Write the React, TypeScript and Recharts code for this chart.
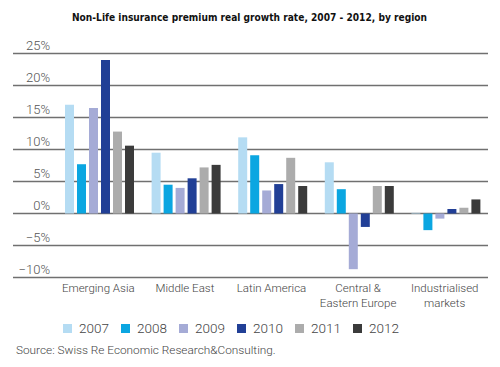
import React from "react";
import { BarChart, Bar, XAxis, YAxis, CartesianGrid } from "recharts";

const regions = [
  "Emerging Asia",
  "Middle East",
  "Latin America",
  "Central &\nEastern Europe",
  "Industrialised\nmarkets",
];

const years = ["2007", "2008", "2009", "2010", "2011", "2012"];

const y2007 = [17.0, 9.5, 11.9, 8.0, 0.1];
const y2008 = [7.7, 4.5, 9.1, 3.8, -2.6];
const y2009 = [16.5, 4.0, 3.6, -8.7, -0.8];
const y2010 = [24.0, 5.5, 4.6, -2.1, 0.7];
const y2011 = [12.8, 7.2, 8.7, 4.3, 0.9];
const y2012 = [10.6, 7.6, 4.3, 4.3, 2.2];

const yTicks = [-10, -5, 0, 5, 10, 15, 20, 25];

const colors = ["#b5dcf3", "#0ba6e1", "#a5abd6", "#213f96", "#acacac", "#3b3b3b"];

const series = [y2007, y2008, y2009, y2010, y2011, y2012];

const data = regions.map((r, i) => {
  const row: Record<string, string | number> = { region: r };
  years.forEach((y, k) => {
    row[y] = series[k][i];
  });
  return row;
});

const font = "Roboto, 'Liberation Sans', sans-serif";

function YTick(props: any) {
  const { y, payload } = props;
  const v = payload.value as number;
  const label = (v < 0 ? "\u2212" + Math.abs(v) : String(v)) + "%";
  return (
    <text x={50} y={y - 4} textAnchor="end" fontSize={13} fill="#555" fontFamily={font} fontWeight={300}>
      {label}
    </text>
  );
}

function XTick(props: any) {
  const { x, y, payload } = props;
  const lines = String(payload.value).split("\n");
  return (
    <text x={x} y={y + 6} textAnchor="middle" fontSize={11.5} fill="#444" fontFamily={font} fontWeight={300}>
      {lines.map((l, i) => (
        <tspan key={i} x={x} dy={i === 0 ? 0 : 15}>
          {l}
        </tspan>
      ))}
    </text>
  );
}

export default function App() {
  return (
    <div style={{ position: "absolute", left: 0, top: 0, width: 500, height: 367, background: "#fff", overflow: "hidden" }}>
      <svg width={500} height={30} style={{ position: "absolute", left: 0, top: 0 }}>
        <text
          x={72}
          y={21}
          fontSize={11}
          fontWeight="bold"
          fontFamily="'DejaVu Sans', Verdana, sans-serif"
          fill="#111"
          textLength={355}
          lengthAdjust="spacingAndGlyphs"
        >
          Non-Life insurance premium real growth rate, 2007 - 2012, by region
        </text>
      </svg>
      <div style={{ position: "absolute", left: 0, top: 0 }}>
        <BarChart
          width={500}
          height={340}
          data={data}
          margin={{ top: 53.5, right: 12, left: 13, bottom: 22.5 }}
          barCategoryGap={10}
          barGap={3}
        >
          <CartesianGrid vertical={false} stroke="#707070" strokeWidth={1.5} strokeDasharray="" />
          <XAxis
            dataKey="region"
            axisLine={false}
            tickLine={false}
            tick={<XTick />}
            interval={0}
            height={40}
            padding={{ left: 42, right: 0 }}
          />
          <YAxis
            mirror
            domain={[-10, 25]}
            ticks={yTicks}
            axisLine={false}
            tickLine={false}
            tick={<YTick />}
            interval={0}
          />
          {years.map((y, k) => (
            <Bar key={y} dataKey={y} fill={colors[k]} isAnimationActive={false} />
          ))}
        </BarChart>
      </div>
      <div style={{ position: "absolute", left: 63, top: 320, display: "flex", fontFamily: font, fontWeight: 300, fontSize: 13.5, color: "#444" }}>
        {years.map((y, k) => (
          <div key={y} style={{ display: "flex", alignItems: "center", width: 58 }}>
            <span style={{ display: "inline-block", width: 9, height: 9, background: colors[k], marginRight: 7 }} />
            <span>{y}</span>
          </div>
        ))}
      </div>
      <div style={{ position: "absolute", left: 16, top: 343, fontFamily: font, fontWeight: 300, fontSize: 11.8, color: "#444" }}>
        Source: Swiss Re Economic Research&amp;Consulting.
      </div>
    </div>
  );
}
